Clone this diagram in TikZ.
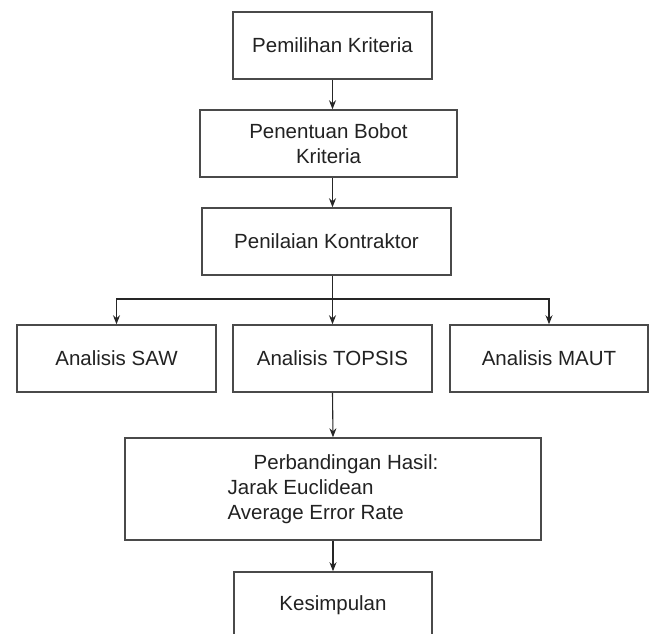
\documentclass[tikz,border=0pt]{standalone}
\usepackage{fontspec}
\setmainfont{Liberation Sans}
\usetikzlibrary{arrows.meta,calc}
\definecolor{boxline}{HTML}{4A4A4A}
\definecolor{conn}{HTML}{262626}
\definecolor{txt}{HTML}{222222}
\tikzset{
  procbox/.style={draw=boxline, line width=1.5pt, fill=white, rectangle, inner sep=0pt,
    minimum height=67pt, text=txt, font=\fontsize{20.5}{25}\selectfont, align=center},
  conn/.style={draw=conn, line width=1.1pt, -{Stealth[length=9pt,width=7pt]}}
}
\begin{document}
\begin{tikzpicture}[x=1pt,y=-1pt]
\useasboundingbox (0,0) rectangle (654,633);
\clip (0,0) rectangle (654,633);
\node[procbox, minimum width=199pt] (b1) at (332.5,45.5) {Pemilihan Kriteria};
\node[procbox, minimum width=257pt] (b2) at (328.5,143.5) {Penentuan Bobot\\Kriteria};
\node[procbox, minimum width=249pt] (b3) at (326.5,241.5) {Penilaian Kontraktor};
\node[procbox, minimum width=199pt] (saw) at (116.5,358.5) {Analisis SAW};
\node[procbox, minimum width=199pt] (topsis) at (332.5,358.5) {Analisis TOPSIS};
\node[procbox, minimum width=198pt] (maut) at (549,358.5) {Analisis MAUT};
\node[procbox, minimum width=416pt, minimum height=102pt, align=left] (perb) at (333,489)
  {\hspace*{26pt}Perbandingan Hasil:\\Jarak Euclidean\\Average Error Rate};
\node[procbox, minimum width=198pt] (kes) at (333,605.5) {Kesimpulan};
\coordinate (j) at (333,299);
\draw[conn] (b1.south) -- (b1.south |- b2.north);
\draw[conn] (b1.south |- b2.south) -- (b1.south |- b3.north);
\draw[conn] (b1.south |- b3.south) -- (topsis.north);
\draw[conn] (j) -| (saw.north);
\draw[conn] (j) -| (maut.north);
\draw[conn] (topsis.south) -- (perb.north);
\draw[conn] (perb.south) -- (kes.north);
\end{tikzpicture}
\end{document}
